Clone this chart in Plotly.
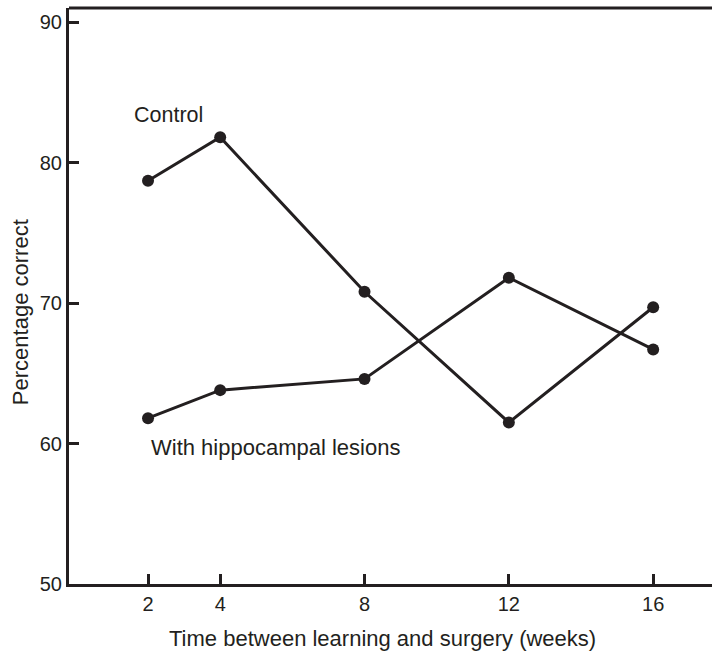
import plotly.graph_objects as go

# Weeks between learning and surgery
weeks = [2, 4, 8, 12, 16]

# Percentage correct for each group
control = [78.7, 81.8, 70.8, 61.5, 69.7]
lesions = [61.8, 63.8, 64.6, 71.8, 66.7]

x_ticks = [2, 4, 8, 12, 16]
y_ticks = [50, 60, 70, 80, 90]

INK = "#231f20"
FONT = "Liberation Sans, Arial, Helvetica, sans-serif"

fig = go.Figure()
for name, vals in [("Control", control), ("With hippocampal lesions", lesions)]:
    fig.add_trace(go.Scatter(
        x=weeks, y=vals, name=name, mode="lines+markers",
        line=dict(color=INK, width=3),
        marker=dict(color=INK, size=12),
        showlegend=False,
    ))

# Group labels placed beside their series
fig.add_annotation(x=1.55, y=83.4, text="Control", showarrow=False,
                   xanchor="left", yanchor="middle",
                   font=dict(family=FONT, size=21.5, color=INK))
fig.add_annotation(x=2.02, y=59.7, text="With hippocampal lesions", showarrow=False,
                   xanchor="left", yanchor="middle",
                   font=dict(family=FONT, size=22, color=INK))

# Axis titles
fig.add_annotation(xref="paper", yref="paper", x=0.488, y=0, yshift=-54,
                   text="Time between learning and surgery (weeks)", showarrow=False,
                   xanchor="center", yanchor="middle",
                   font=dict(family=FONT, size=22, color=INK))
fig.add_annotation(xref="paper", yref="paper", x=0, y=0.472, xshift=-49,
                   text="Percentage correct", showarrow=False, textangle=-90,
                   xanchor="center", yanchor="middle",
                   font=dict(family=FONT, size=22, color=INK))

# Top frame line
fig.add_shape(type="line", xref="paper", yref="paper", x0=0, x1=1, y0=1, y1=1,
              line=dict(color=INK, width=3))

fig.update_xaxes(
    range=[-0.19, 17.63], tickvals=x_ticks, ticktext=[str(v) for v in x_ticks],
    showgrid=False, zeroline=False, showline=True, linecolor=INK, linewidth=3,
    ticks="inside", ticklen=10, tickwidth=3, tickcolor=INK,
    tickfont=dict(family=FONT, size=20, color=INK),
)
fig.update_yaxes(
    range=[50, 91], tickvals=y_ticks, ticktext=[str(v) for v in y_ticks],
    showgrid=False, zeroline=False, showline=True, linecolor=INK, linewidth=3,
    ticks="inside", ticklen=10, tickwidth=3, tickcolor=INK,
    tickfont=dict(family=FONT, size=20, color=INK),
)

fig.update_layout(
    width=712, height=657,
    margin=dict(l=69, r=0, t=8, b=73),
    paper_bgcolor="white", plot_bgcolor="white",
    font=dict(family=FONT, color=INK),
)

fig.write_html("out.html")
